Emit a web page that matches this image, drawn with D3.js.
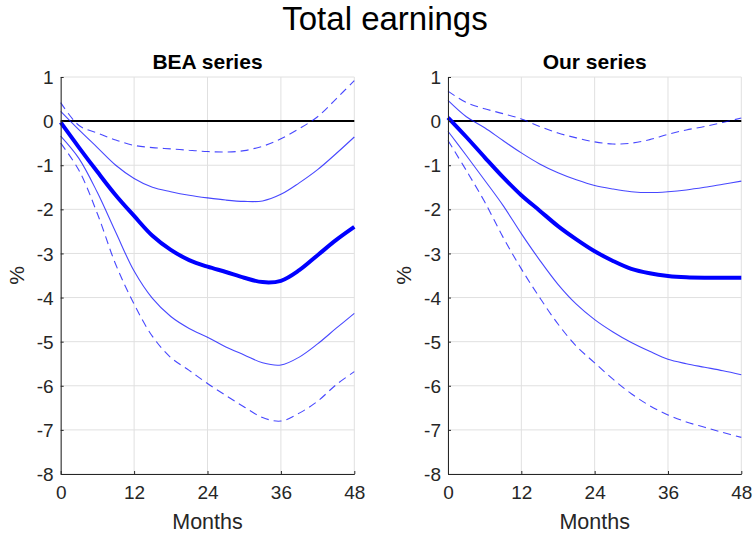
<!DOCTYPE html>
<html>
<head>
<meta charset="utf-8">
<script src="https://cdn.jsdelivr.net/npm/d3@7"></script>
<style>
  html, body { margin: 0; padding: 0; background: #fff; }
  svg { display: block; font-family: "Liberation Sans", Arial, sans-serif; }
</style>
</head>
<body>
<svg id="chart" width="755" height="537"></svg>
<script>
const mainTitle = "Total earnings";
const panelTitles = ["BEA series", "Our series"];
const xLabel = "Months";
const yLabel = "%";
const months = [0, 3, 6, 9, 12, 15, 18, 21, 24, 27, 30, 33, 36, 39, 42, 45, 48];
const xTicks = [0, 12, 24, 36, 48];
const yTicks = [1, 0, -1, -2, -3, -4, -5, -6, -7, -8];

// BEA series
const beaPoint   = [-0.03, -0.6, -1.15, -1.68, -2.15, -2.6, -2.92, -3.15, -3.3, -3.42, -3.55, -3.65, -3.62, -3.38, -3.04, -2.7, -2.4];
const beaUpper68 = [0.22, -0.2, -0.6, -1.0, -1.3, -1.5, -1.6, -1.68, -1.74, -1.79, -1.82, -1.81, -1.66, -1.4, -1.1, -0.74, -0.36];
const beaLower68 = [-0.34, -0.85, -1.62, -2.52, -3.4, -4.02, -4.43, -4.7, -4.9, -5.12, -5.3, -5.48, -5.53, -5.35, -5.05, -4.7, -4.36];
const beaUpper90 = [0.42, -0.1, -0.27, -0.43, -0.55, -0.6, -0.63, -0.66, -0.69, -0.7, -0.67, -0.57, -0.4, -0.17, 0.1, 0.5, 0.92];
const beaLower90 = [-0.5, -1.12, -2.1, -3.25, -4.15, -4.88, -5.36, -5.65, -5.95, -6.22, -6.48, -6.72, -6.8, -6.62, -6.35, -5.98, -5.68];

// Our series
const ourPoint   = [0.08, -0.36, -0.82, -1.27, -1.68, -2.03, -2.38, -2.68, -2.95, -3.17, -3.35, -3.45, -3.51, -3.54, -3.55, -3.55, -3.55];
const ourUpper68 = [0.47, 0.1, -0.15, -0.44, -0.72, -0.97, -1.17, -1.33, -1.46, -1.54, -1.6, -1.62, -1.6, -1.56, -1.5, -1.43, -1.36];
const ourLower68 = [-0.23, -0.78, -1.34, -1.91, -2.55, -3.15, -3.7, -4.15, -4.5, -4.78, -5.02, -5.22, -5.4, -5.5, -5.58, -5.66, -5.75];
const ourUpper90 = [0.68, 0.42, 0.28, 0.17, 0.05, -0.12, -0.27, -0.38, -0.47, -0.52, -0.5, -0.42, -0.3, -0.2, -0.12, -0.03, 0.07];
const ourLower90 = [-0.44, -1.12, -1.83, -2.63, -3.35, -4.0, -4.6, -5.1, -5.48, -5.85, -6.18, -6.45, -6.66, -6.82, -6.94, -7.06, -7.17];

const panels = [
  { title: panelTitles[0], point: beaPoint, u68: beaUpper68, l68: beaLower68, u90: beaUpper90, l90: beaLower90, x0: 60.7, x1: 354.3 },
  { title: panelTitles[1], point: ourPoint, u68: ourUpper68, l68: ourLower68, u90: ourUpper90, l90: ourLower90, x0: 448, x1: 741.3 }
];

const svg = d3.select("#chart");
const axisColor = "#262626";
const yTop = 77, yBot = 474;

svg.append("text")
  .attr("x", 385).attr("y", 30)
  .attr("text-anchor", "middle")
  .attr("font-size", 33)
  .attr("fill", "#000")
  .text(mainTitle);

panels.forEach(p => {
  const x = d3.scaleLinear().domain([0, 48]).range([p.x0, p.x1]);
  const y = d3.scaleLinear().domain([-8, 1]).range([yBot, yTop]);
  const g = svg.append("g");

  // grid
  g.append("g").selectAll("line").data(xTicks).join("line")
    .attr("x1", d => x(d)).attr("x2", d => x(d))
    .attr("y1", yTop).attr("y2", yBot)
    .attr("stroke", "#e0e0e0").attr("stroke-width", 1);
  g.append("g").selectAll("line").data(yTicks).join("line")
    .attr("x1", p.x0).attr("x2", p.x1)
    .attr("y1", d => y(d)).attr("y2", d => y(d))
    .attr("stroke", "#e0e0e0").attr("stroke-width", 1);

  // zero line
  g.append("line")
    .attr("x1", x(0)).attr("x2", x(48))
    .attr("y1", y(0)).attr("y2", y(0))
    .attr("stroke", "#000").attr("stroke-width", 2);

  const line = arr => d3.line()
    .x((d, i) => x(months[i]))
    .y(d => y(d))
    .curve(d3.curveCatmullRom.alpha(0.5))(arr);

  [[p.u90, true], [p.l90, true], [p.u68, false], [p.l68, false]].forEach(([arr, dashed]) => {
    g.append("path")
      .attr("d", line(arr))
      .attr("fill", "none")
      .attr("stroke", "#0000ff")
      .attr("stroke-opacity", 0.72)
      .attr("stroke-width", 1.1)
      .attr("stroke-dasharray", dashed ? "8,5" : null);
  });
  g.append("path")
    .attr("d", line(p.point))
    .attr("fill", "none")
    .attr("stroke", "#0000ff")
    .attr("stroke-width", 4);

  // axes
  const fmt = d => String(d);
  const ax = g.append("g").attr("transform", `translate(0,${yBot})`)
    .call(d3.axisBottom(x).tickValues(xTicks).tickFormat(fmt).tickSize(-3).tickPadding(12).tickSizeOuter(0));
  const ay = g.append("g").attr("transform", `translate(${p.x0},0)`)
    .call(d3.axisLeft(y).tickValues(yTicks).tickFormat(fmt).tickSize(-3).tickPadding(7).tickSizeOuter(0));
  [ax, ay].forEach(a => {
    a.select(".domain").attr("stroke", axisColor).attr("stroke-width", 1);
    a.selectAll(".tick line").attr("stroke", axisColor);
    a.selectAll(".tick text").attr("fill", axisColor).attr("font-size", 19)
      .attr("font-family", "Liberation Sans, Arial, sans-serif");
  });
  ay.selectAll(".tick text").attr("dy", "0.35em");

  // titles
  g.append("text")
    .attr("x", (p.x0 + p.x1) / 2).attr("y", 69)
    .attr("text-anchor", "middle")
    .attr("font-size", 21).attr("font-weight", "bold")
    .attr("fill", "#000")
    .text(p.title);
  g.append("text")
    .attr("x", (p.x0 + p.x1) / 2).attr("y", 529)
    .attr("text-anchor", "middle")
    .attr("font-size", 21.5)
    .attr("fill", axisColor)
    .text(xLabel);
  g.append("text")
    .attr("transform", `translate(${p.x0 - 37},${(yTop + yBot) / 2}) rotate(-90)`)
    .attr("text-anchor", "middle")
    .attr("font-size", 21)
    .attr("fill", axisColor)
    .text(yLabel);
});
</script>
</body>
</html>
